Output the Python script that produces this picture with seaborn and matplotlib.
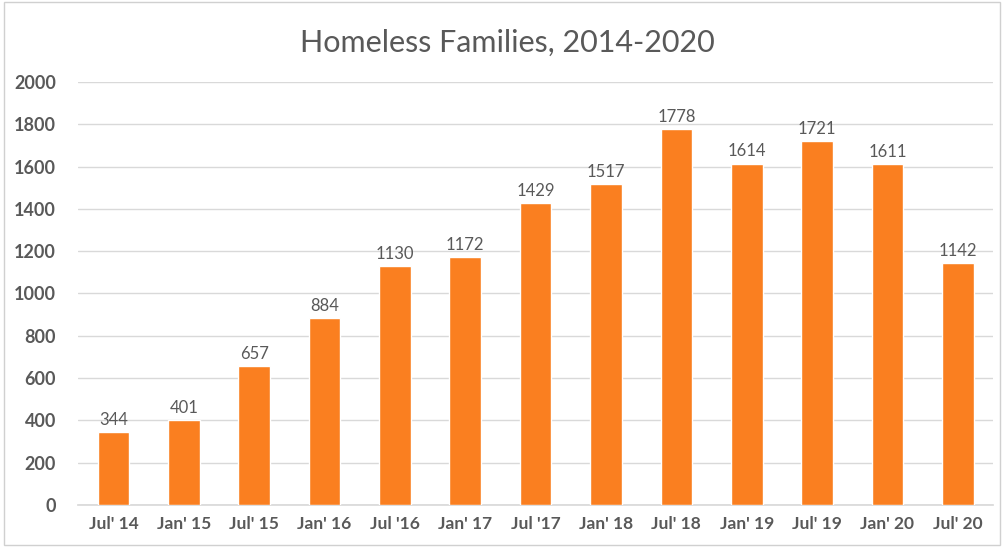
import matplotlib
matplotlib.use("Agg")
import matplotlib.pyplot as plt
import pandas as pd
import seaborn as sns
from matplotlib.patches import Rectangle

# Data
periods = ["Jul' 14", "Jan' 15", "Jul' 15", "Jan' 16", "Jul '16", "Jan' 17",
           "Jul '17", "Jan' 18", "Jul' 18", "Jan' 19", "Jul' 19", "Jan' 20", "Jul' 20"]
families = [344, 401, 657, 884, 1130, 1172, 1429, 1517, 1778, 1614, 1721, 1611, 1142]
y_ticks = [0, 200, 400, 600, 800, 1000, 1200, 1400, 1600, 1800, 2000]

df = pd.DataFrame({"period": periods, "families": families})

sns.set_theme(style="white")
plt.rcParams["font.family"] = ["Lato", "DejaVu Sans"]

text_grey = "#595959"
bar_color = "#FA7F20"

fig = plt.figure(figsize=(10.04, 5.47), dpi=100)
ax = fig.add_axes([0.078, 0.077, 0.911, 0.773])

sns.barplot(data=df, x="period", y="families", color=bar_color,
            width=0.45, saturation=1, ax=ax, zorder=3)

ax.set_ylim(0, 2000)
ax.set_xlim(-0.5, len(periods) - 0.5)
ax.set_yticks(y_ticks)
ax.set_yticklabels([str(v) for v in y_ticks], fontsize=13, fontweight="bold",
                   color=text_grey)
ax.set_xticks(range(len(periods)))
ax.set_xticklabels(periods, fontsize=12.5, fontweight="bold", color=text_grey)
ax.tick_params(axis="both", length=0)
ax.tick_params(axis="y", pad=16)
ax.tick_params(axis="x", pad=8)
ax.yaxis.grid(True, color="#D9D9D9", linewidth=1, zorder=0)
for side in ["top", "right", "left"]:
    ax.spines[side].set_visible(False)
ax.spines["bottom"].set_color("#D9D9D9")
ax.set_xlabel("")
ax.set_ylabel("")

for container in ax.containers:
    ax.bar_label(container, labels=[str(v) for v in families], padding=3,
                 fontsize=12, color=text_grey)

fig.text(0.505, 0.922, "Homeless Families, 2014-2020", ha="center", va="center",
         fontsize=22, color=text_grey)

fig.patches.append(Rectangle((0.004, 0.004), 0.992, 0.992, transform=fig.transFigure,
                             fill=False, edgecolor="#D0D0D0", linewidth=1))

fig.savefig("out.png", dpi=100)
